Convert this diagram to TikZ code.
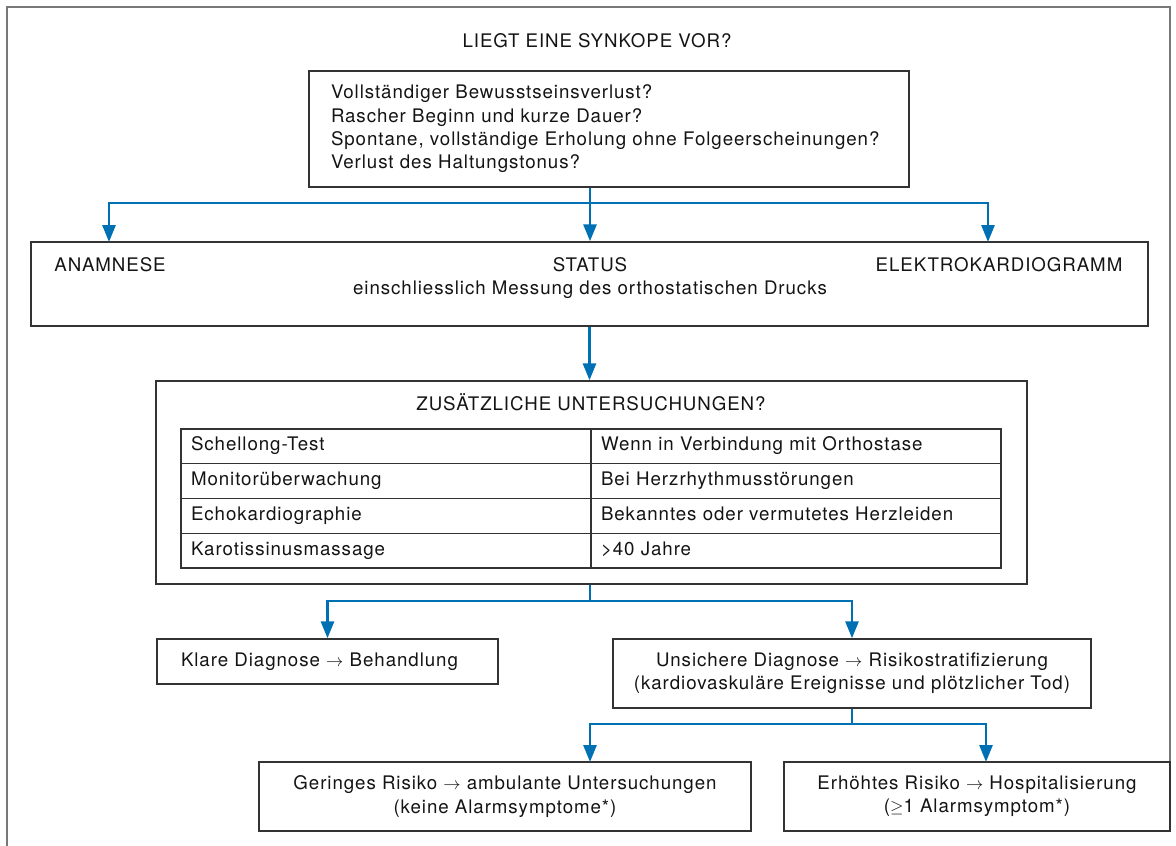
\documentclass[tikz,border=0pt]{standalone}
\usepackage{fontspec}
\setmainfont{TeX Gyre Heros}[LetterSpace=5]
\usetikzlibrary{arrows.meta}
\definecolor{flowblue}{RGB}{0,112,180}
\definecolor{rahmen}{RGB}{120,120,120}

\begin{document}
\begin{tikzpicture}[x=1pt, y=-1pt,
	every node/.style={font=\fontsize{18.7}{23.3}\selectfont, text=black!92},
	box/.style={draw=black!80, line width=1.4pt, inner sep=0pt},
	cell/.style={draw=black!80, line width=1.1pt, minimum width=410pt, minimum height=34.75pt, text width=390pt, inner xsep=10pt, inner ysep=0pt, text height=13pt, text depth=4pt, align=left},
	flow/.style={draw=flowblue, line width=2.8pt, -{Triangle[width=13pt,length=17pt]}}]
	\useasboundingbox (0,0) rectangle (1176,846);
	\draw[rahmen, line width=1.5pt] (7,846) -- (7,7) -- (1170,7) -- (1170,762);
	\node[anchor=base] (frage) at (597,47) {LIEGT EINE SYNKOPE VOR?};
	\node[box, minimum width=600pt, minimum height=116pt, text width=556pt, align=left] (kriterien) at (609,129) {Vollständiger Bewusstseinsverlust?\\Rascher Beginn und kurze Dauer?\\Spontane, vollständige Erholung ohne Folgeerscheinungen?\\Verlust des Haltungstonus?};
	% Basisabklaerung
	\node[box, minimum width=1117pt, minimum height=84pt] (basis) at (589.5,284) {};
	\node[anchor=base] (anamnese) at (110,271) {ANAMNESE};
	\node[anchor=base] (status) at (590,271) {STATUS};
	\node[anchor=base] (ekg) at (999,271) {ELEKTROKARDIOGRAMM};
	\node[anchor=base] (orthostase) at (590,294) {einschliesslich Messung des orthostatischen Drucks};
	% Zusatzuntersuchungen mit Tabelle
	\node[box, minimum width=871pt, minimum height=203pt] (zusatz) at (591.5,482.5) {};
	\node[anchor=base] (zusatztitel) at (591,410) {ZUSÄTZLICHE UNTERSUCHUNGEN?};
	\foreach \links/\rechts [count=\i from 0] in {Schellong-Test/Wenn in Verbindung mit Orthostase, Monitorüberwachung/Bei Herzrhythmusstörungen, Echokardiographie/Bekanntes oder vermutetes Herzleiden, Karotissinusmassage/>40 Jahre} {
		\node[cell] (test\i) at (386,{446.375+34.75*\i}) {\links};
		\node[cell] (indikation\i) at (796,{446.375+34.75*\i}) {\rechts};
	}
	% Ergebnis
	\node[box, minimum width=341pt, minimum height=45pt, text width=293pt, align=left] (klar) at (327.5,661.5) {Klare Diagnose $\rightarrow$ Behandlung};
	\node[box, minimum width=478pt, minimum height=69pt, align=center] (unsicher) at (852,673.5) {Unsichere Diagnose $\rightarrow$ Risikostratifizierung\\(kardiovaskuläre Ereignisse und plötzlicher Tod)};
	\node[box, minimum width=492pt, minimum height=69pt, align=center] (gering) at (505,796.5) {Geringes Risiko $\rightarrow$ ambulante Untersuchungen\\(keine Alarmsymptome*)};
	\node[box, minimum width=386pt, minimum height=69pt, align=center] (hoch) at (977,796.5) {Erhöhtes Risiko $\rightarrow$ Hospitalisierung\\($\geq$1 Alarmsymptom*)};
	% Pfeile
	\coordinate (gabel1) at (590,203);
	\coordinate (zuAnamnese) at (109,242);
	\coordinate (zuEkg) at (988,242);
	\coordinate (gabel2) at (590,601);
	\coordinate (gabel3) at (852,724);
	\coordinate (zuGering) at (590,762);
	\coordinate (zuHoch) at (986,762);
	\draw[flow, -] (kriterien.south -| gabel1) -- (gabel1);
	\draw[flow] (gabel1) -- (gabel1 |- basis.north);
	\draw[flow] (gabel1) -| (zuAnamnese);
	\draw[flow] (gabel1) -| (zuEkg);
	\draw[flow] (basis.south) -- (basis.south |- zusatz.north);
	\draw[flow, -] (zusatz.south -| gabel2) -- (gabel2);
	\draw[flow] (gabel2) -| (klar.north);
	\draw[flow] (gabel2) -| (unsicher.north);
	\draw[flow, -] (unsicher.south) -- (gabel3);
	\draw[flow] (gabel3) -| (zuGering);
	\draw[flow] (gabel3) -| (zuHoch);
\end{tikzpicture}
\end{document}
